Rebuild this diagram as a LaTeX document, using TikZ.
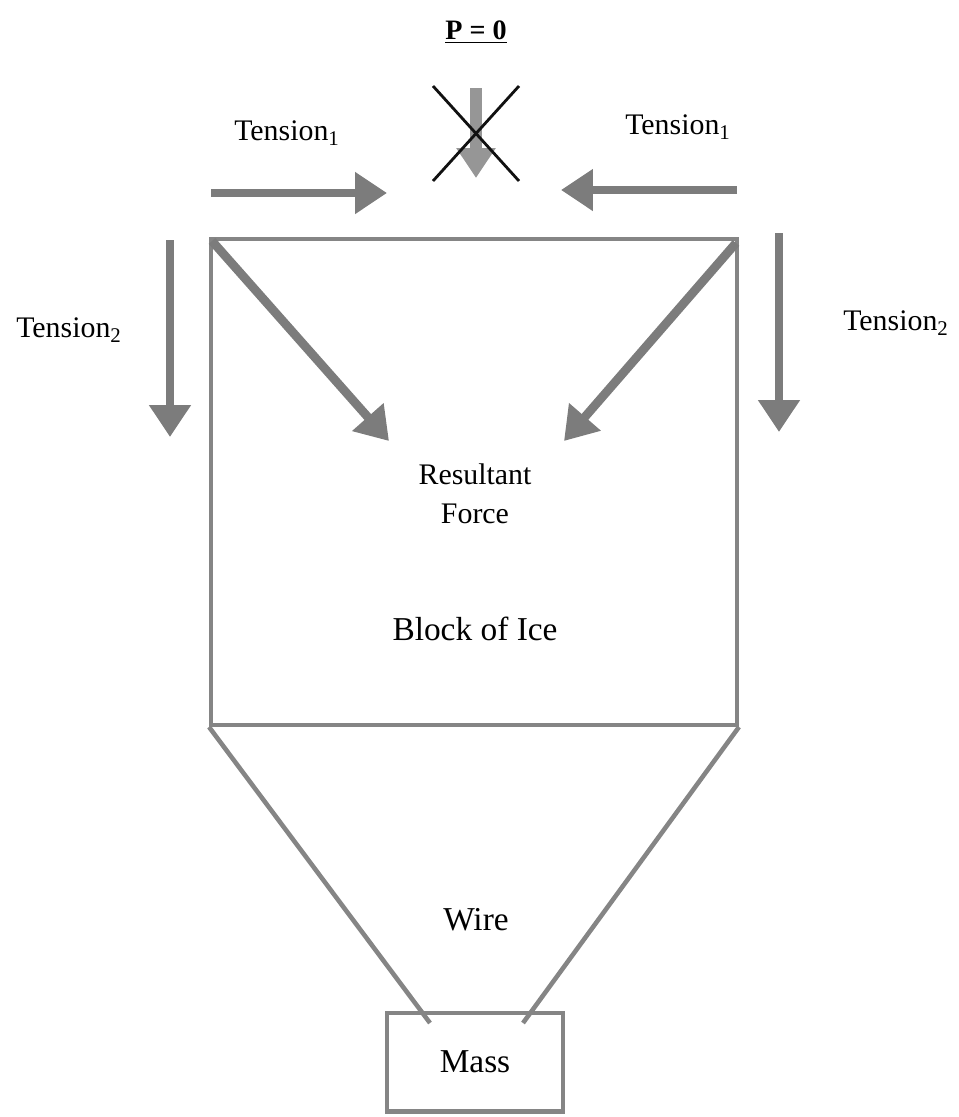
\documentclass[tikz,border=0pt]{standalone}
\usepackage{fontspec}
\setmainfont{Liberation Serif}
\usepackage{tikz}
\usepackage{xcolor}
\usetikzlibrary{positioning, arrows.meta, calc}
\definecolor{framegray}{HTML}{858585}
\definecolor{forcegray}{HTML}{7C7C7C}
\definecolor{crossblack}{HTML}{111111}

\begin{document}
\begin{tikzpicture}[x=0.02cm, y=-0.02cm,
    force/.style={forcegray, line width=5pt, -{Triangle[length=0.64cm, width=0.8cm]}},
    frame/.style={draw=framegray, line width=2.3pt},
    lbl/.style={font=\fontsize{17}{20}\selectfont, inner sep=0pt},
    biglbl/.style={font=\fontsize{19}{22}\selectfont, inner sep=0pt}]
        \useasboundingbox (0,0) rectangle (959,1117);

        % Titulo
        \node[font=\fontsize{16}{18}\selectfont\bfseries] (title) at (476,32) {\underline{P = 0}};

        % Bloque de hielo y masa
        \node[frame, minimum width=10.52cm, minimum height=9.72cm] (block) at (474,482) {};
        \node[frame, minimum width=3.52cm, minimum height=1.98cm, biglbl] (mass) at (475,1062) {Mass};

        % Alambres
        \coordinate (wireL) at (430,1023);
        \coordinate (wireR) at (523,1023);
        \draw[framegray, line width=2.6pt] (block.south west) -- (wireL);
        \draw[framegray, line width=2.6pt] (block.south east) -- (wireR);

        % Fuerza central tachada
        \coordinate (pTop) at (476,88);
        \coordinate (pTip) at (476,178);
        \draw[forcegray!80, line width=7pt, -{Triangle[length=0.6cm, width=0.75cm]}] (pTop) -- (pTip);
        \draw[crossblack, line width=1.6pt] (433,86) -- (519,181);
        \draw[crossblack, line width=1.6pt] (519,86) -- (433,181);

        % Tensiones horizontales
        \coordinate (t1Lstart) at (211,193);
        \coordinate (t1Lend) at (387,193);
        \coordinate (t1Rstart) at (737,190);
        \coordinate (t1Rend) at (561,190);
        \draw[force] (t1Lstart) -- (t1Lend);
        \draw[force] (t1Rstart) -- (t1Rend);

        % Tensiones verticales
        \coordinate (t2Lstart) at (170,240);
        \coordinate (t2Lend) at (170,437);
        \coordinate (t2Rstart) at (779,233);
        \coordinate (t2Rend) at (779,432);
        \draw[force] (t2Lstart) -- (t2Lend);
        \draw[force] (t2Rstart) -- (t2Rend);

        % Resultantes
        \coordinate (resL) at (389,441);
        \coordinate (resR) at (564,441);
        \draw[force] ([shift={(3,4)}]block.north west) -- (resL);
        \draw[force] ([shift={(-3,6)}]block.north east) -- (resR);

        % Etiquetas
        \node[lbl] (tenLA) at (287,133) {Tension\textsubscript{1}};
        \node[lbl] (tenRA) at (678,127) {Tension\textsubscript{1}};
        \node[lbl] (tenLB) at (69,330) {Tension\textsubscript{2}};
        \node[lbl] (tenRB) at (896,323) {Tension\textsubscript{2}};
        \node[lbl, align=center] (result) at (475,494) {Resultant\\[2pt]Force};
        \node[biglbl] (ice) at (475,629) {Block of Ice};
        \node[biglbl] (wire) at (476,920) {Wire};
\end{tikzpicture}
\end{document}
